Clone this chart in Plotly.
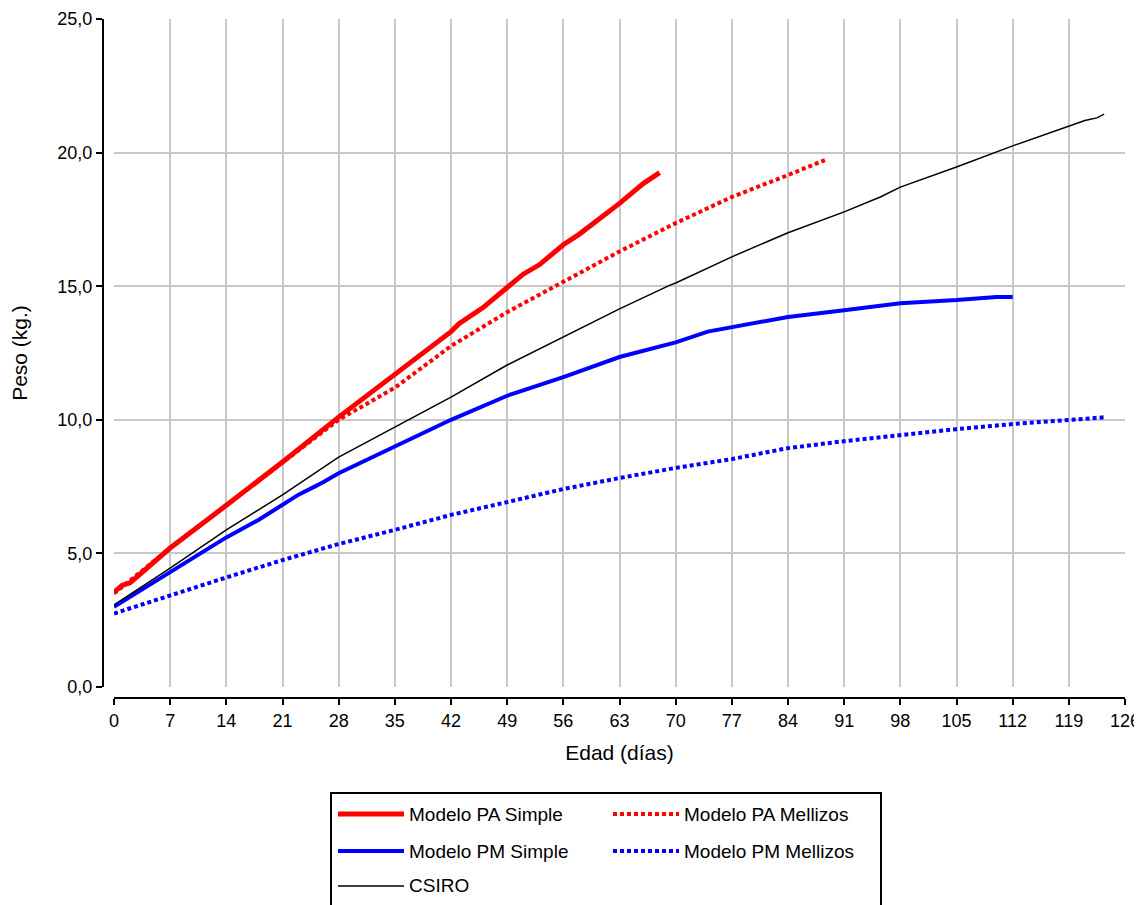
import plotly.graph_objects as go

# ---- data ----
pa_simple_dias = [0, 1, 2, 7, 14, 21, 28, 35, 42, 43, 46, 49, 51, 53, 56, 58, 63, 66, 68]
pa_simple_peso = [3.55, 3.8, 3.9, 5.2, 6.8, 8.42, 10.1, 11.7, 13.3, 13.6, 14.2, 14.95, 15.45, 15.8, 16.55, 16.95, 18.1, 18.85, 19.25]

pa_mell_dias = [0, 7, 14, 21, 28, 35, 42, 49, 56, 63, 70, 77, 84, 88.6]
pa_mell_peso = [3.5, 5.2, 6.8, 8.42, 10.0, 11.2, 12.76, 14.03, 15.16, 16.3, 17.36, 18.34, 19.16, 19.72]

pm_simple_dias = [0, 7, 14, 18, 21, 23, 25, 26, 28, 35, 42, 49, 56, 63, 66, 70, 74, 77, 84, 91, 98, 105, 110, 112]
pm_simple_peso = [3.0, 4.3, 5.6, 6.25, 6.8, 7.2, 7.5, 7.65, 8.0, 8.98, 10.0, 10.9, 11.6, 12.35, 12.6, 12.9, 13.3, 13.47, 13.85, 14.1, 14.36, 14.48, 14.6, 14.6]

pm_mell_dias = [0, 7, 14, 21, 28, 35, 42, 49, 56, 63, 70, 77, 84, 91, 98, 105, 112, 119, 123.7]
pm_mell_peso = [2.75, 3.44, 4.1, 4.75, 5.35, 5.88, 6.44, 6.92, 7.41, 7.82, 8.2, 8.53, 8.94, 9.2, 9.43, 9.65, 9.84, 10.0, 10.1]

csiro_dias = [0, 7, 14, 21, 28, 35, 42, 49, 56, 63, 69.3, 70, 77, 84, 91, 95.5, 98, 105, 112, 119, 121, 122.5, 123.4]
csiro_peso = [3.07, 4.45, 5.88, 7.19, 8.6, 9.73, 10.85, 12.05, 13.1, 14.15, 15.04, 15.12, 16.1, 17.0, 17.78, 18.34, 18.71, 19.46, 20.25, 21.0, 21.2, 21.3, 21.44]

x_ticks = list(range(0, 127, 7))
y_ticks = [0, 5, 10, 15, 20, 25]

series = [
    ("Modelo PA Simple", pa_simple_dias, pa_simple_peso, "#ff0000", 5, "solid"),
    ("Modelo PA Mellizos", pa_mell_dias, pa_mell_peso, "#ff0000", 4, "4px,3px"),
    ("Modelo PM Simple", pm_simple_dias, pm_simple_peso, "#0000ff", 4, "solid"),
    ("Modelo PM Mellizos", pm_mell_dias, pm_mell_peso, "#0000ff", 4, "4px,3px"),
    ("CSIRO", csiro_dias, csiro_peso, "#000000", 1.5, "solid"),
]

OFF = 8  # page body margin offset of the plot div
W, H = 1142 - OFF, 905 - OFF
PL, PR, PT, PB = 100, 1125, 19, 700  # paper area in screen px


def px(xp):
    return (xp - PL) / (PR - PL)


def py(yp):
    return (PB - yp) / (PB - PT)


fig = go.Figure()
for name, xs, ys, col, w, dash in series:
    fig.add_trace(go.Scatter(x=xs, y=ys, mode="lines", name=name, showlegend=False,
                             line=dict(color=col, width=w, dash=dash)))

FONT = "Liberation Sans, Arial, sans-serif"

fig.update_layout(
    width=W, height=H,
    margin=dict(l=PL - OFF, r=1142 - PR, t=PT - OFF, b=905 - PB, pad=0),
    paper_bgcolor="white", plot_bgcolor="white",
    separators=",.",
    font=dict(family=FONT, size=18, color="black"),
    xaxis=dict(domain=[px(114), 1], range=[0, 126], tickvals=x_ticks,
               anchor="free", position=py(698), automargin=False,
               showline=True, linecolor="black", linewidth=2,
               ticks="outside", ticklen=6, tickwidth=2, tickcolor="black",
               showgrid=True, gridcolor="#c8c8c8", gridwidth=2, zeroline=False,
               tickfont=dict(size=18),
               title=dict(text="Edad (días)", font=dict(size=21), standoff=15)),
    yaxis=dict(domain=[py(687), 1], range=[0, 25], tickvals=y_ticks, tickformat=".1f",
               anchor="free", position=px(103), automargin=False,
               showline=True, linecolor="black", linewidth=2,
               ticks="outside", ticklen=6, tickwidth=2, tickcolor="black",
               showgrid=True, gridcolor="#c8c8c8", gridwidth=2, zeroline=False,
               tickfont=dict(size=18),
               title=dict(text="Peso (kg.)", font=dict(size=21), standoff=26)),
)

# ---- manual legend ----
shapes = [dict(type="rect", xref="paper", yref="paper",
               x0=px(331), x1=px(881), y0=py(793), y1=py(915),
               line=dict(color="black", width=2), fillcolor="white", layer="above")]
annotations = []
rows_y = [814, 851, 886]
slots = [(0, 0), (0, 1), (1, 0), (1, 1), (2, 0)]
for (name, xs, ys, col, w, dash), (r, c) in zip(series, slots):
    x0 = 338 if c == 0 else 613
    yy = rows_y[r]
    shapes.append(dict(type="line", xref="paper", yref="paper",
                       x0=px(x0), x1=px(x0 + 66), y0=py(yy), y1=py(yy),
                       line=dict(color=col, width=w, dash=dash), layer="above"))
    annotations.append(dict(text=name, xref="paper", yref="paper",
                            x=px(x0 + 69), y=py(yy), xanchor="left", yanchor="middle",
                            showarrow=False, font=dict(size=19, family=FONT)))

fig.update_layout(shapes=shapes, annotations=annotations)
fig.write_html("out.html")
